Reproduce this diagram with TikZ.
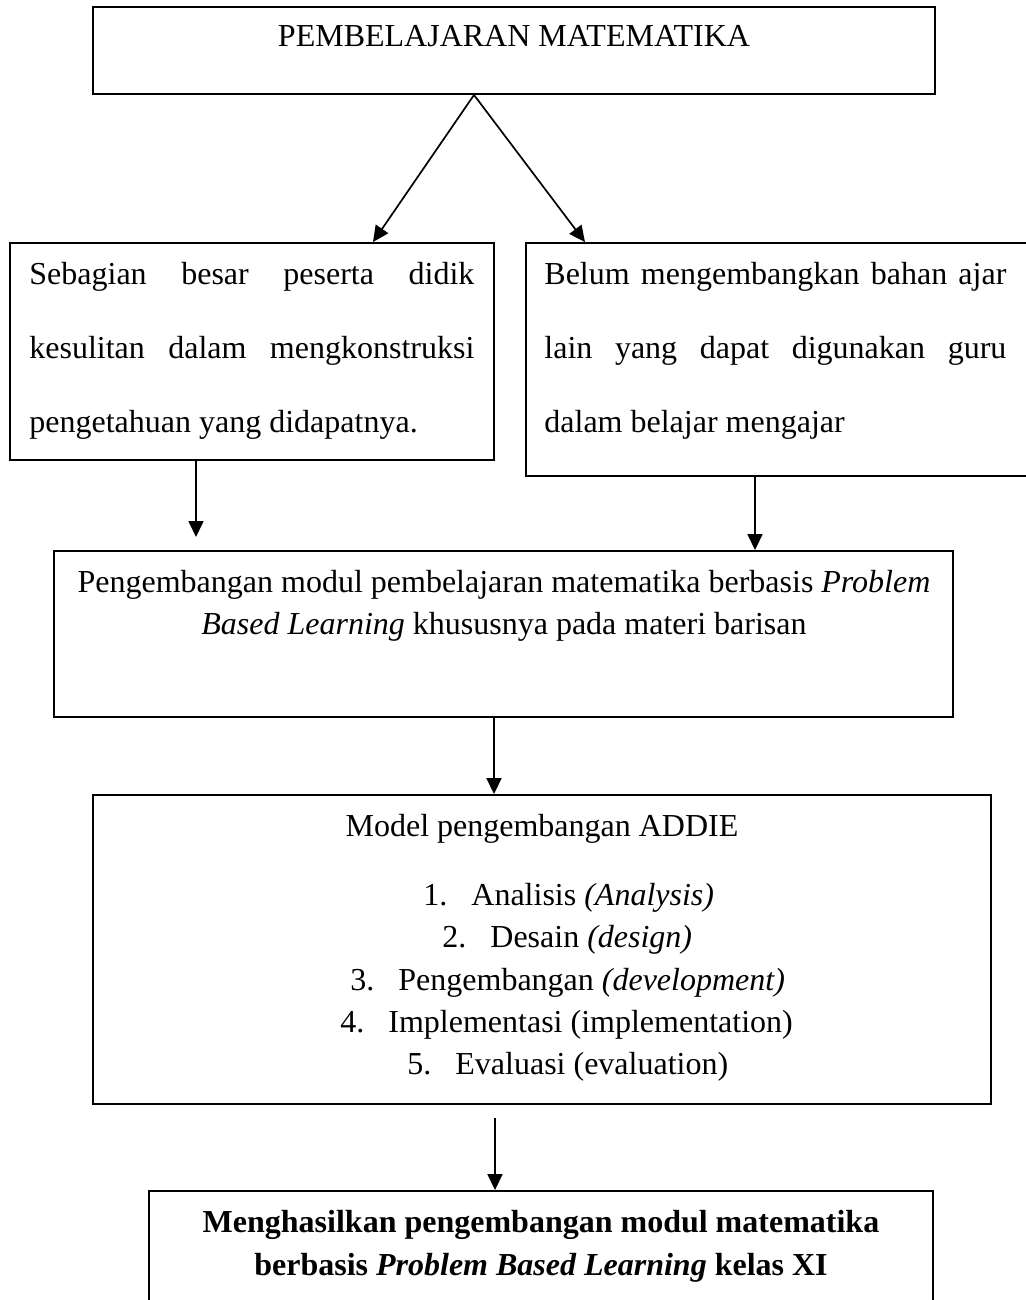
\documentclass[tikz,border=0pt]{standalone}
\usepackage{fontspec}
\setmainfont{Liberation Serif}
\usetikzlibrary{arrows.meta,fit}

\tikzset{
  box/.style={draw,line width=0.95pt,inner sep=0pt},
  txt/.style={inner sep=0pt,font=\fontsize{16pt}{21pt}\selectfont},
  arr/.style={line width=0.85pt,-{Triangle[length=8pt,width=7.5pt]}}
}

\begin{document}
\begin{tikzpicture}
  [x=0.5pt,y=-0.5pt]
  \useasboundingbox (0,0) rectangle (1025,1300);

  % kotak
  \node[box,fit={(93,7) (935,94)}] (top) {};
  \node[box,fit={(10,243) (494,460)}] (kiri) {};
  \node[box,fit={(526,243) (1032,476)}] (kanan) {};
  \node[box,fit={(54,551) (953,717)}] (modul) {};
  \node[box,fit={(93,795) (991,1104)}] (addie) {};
  \node[box,fit={(149,1191) (933,1340)}] (hasil) {};

  % teks
  \node[txt,anchor=base] (ttop) at (514,47) {PEMBELAJARAN MATEMATIKA};
  \node[txt,anchor=north west,text width=222.5pt,align=justify,font=\fontsize{16pt}{37pt}\selectfont] (tkiri) at (29,262)
    {Sebagian besar peserta didik\linebreak kesulitan dalam mengkonstruksi\linebreak pengetahuan yang didapatnya.};
  \node[txt,anchor=north west,text width=231pt,align=justify,font=\fontsize{16pt}{37pt}\selectfont] (tkanan) at (544,262)
    {Belum mengembangkan bahan ajar\linebreak lain yang dapat digunakan guru\linebreak dalam belajar mengajar};
  \node[txt,anchor=north,align=center] (tmodul) at (504,570)
    {Pengembangan modul pembelajaran matematika berbasis \textit{Problem}\\\textit{Based Learning} khususnya pada materi barisan};
  \node[txt,anchor=base] (tmodel) at (542,836) {Model pengembangan ADDIE};
  \foreach \i/\x/\y/\isi in {1/423/905/{Analisis \textit{(Analysis)}},
                             2/442/947/{Desain \textit{(design)}},
                             3/350/990/{Pengembangan \textit{(development)}},
                             4/340/1032/{Implementasi (implementation)},
                             5/407/1074/{Evaluasi (evaluation)}}
    \node[txt,anchor=base west] (item\i) at (\x,\y) {\makebox[24pt][l]{\i.}\isi};
  \node[txt,anchor=north,align=center,font=\fontsize{16pt}{21.5pt}\selectfont\bfseries] (thasil) at (541,1210)
    {Menghasilkan pengembangan modul matematika\\berbasis \textit{Problem Based Learning} kelas XI};

  % panah
  \coordinate (ujung) at (196,537);
  \coordinate (celah) at (495,1118);
  \draw[arr] ([xshift=-20pt]top.south) -- ([xshift=60.5pt]kiri.north);
  \draw[arr] ([xshift=-20pt]top.south) -- ([xshift=-97pt]kanan.north);
  \draw[arr] ([xshift=-28pt]kiri.south) -- (ujung);
  \draw[arr] ([xshift=-12pt]kanan.south) -- ([xshift=125.75pt]modul.north);
  \draw[arr] ([xshift=-4.75pt]modul.south) -- ([xshift=-24pt]addie.north);
  \draw[arr] (celah) -- ([xshift=-23pt]hasil.north);

\end{tikzpicture}
\end{document}
